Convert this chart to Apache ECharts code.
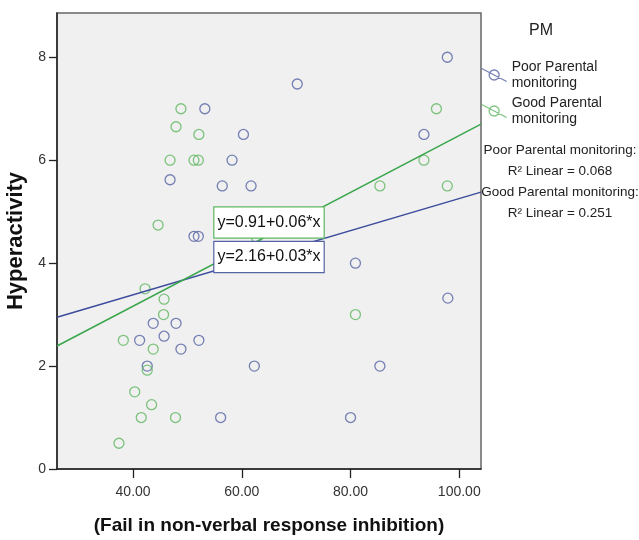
<!DOCTYPE html>
<html>
<head>
<meta charset="utf-8">
<script src="https://cdn.jsdelivr.net/npm/echarts@6.0.0/dist/echarts.min.js"></script>
<style>
  html, body { margin: 0; padding: 0; background: #ffffff; }
  #chart { width: 639px; height: 540px; }
</style>
</head>
<body>
<div id="chart"></div>
<script>
// ---------------- data ----------------
const seriesNames = ['Poor Parental monitoring', 'Good Parental monitoring'];

const poorX = [53.2, 60.3, 58.2, 46.8, 56.4, 61.7, 51.2, 52.0, 43.7, 47.9, 41.2, 45.7, 52.1, 48.8, 42.6, 62.3, 56.1, 97.8, 70.2, 93.5, 80.9, 97.9, 85.4, 80.0];
const poorY = [7.0, 6.5, 6.0, 5.62, 5.5, 5.5, 4.52, 4.52, 2.83, 2.83, 2.5, 2.58, 2.5, 2.33, 2.0, 2.0, 1.0, 8.0, 7.48, 6.5, 4.0, 3.32, 2.0, 1.0];

const goodX = [48.8, 47.9, 52.1, 46.8, 51.2, 52.0, 44.6, 62.7, 42.2, 45.7, 45.6, 38.2, 43.7, 42.6, 40.3, 43.4, 41.5, 47.8, 37.4, 95.8, 93.5, 85.4, 97.8, 80.9];
const goodY = [7.0, 6.65, 6.5, 6.0, 6.0, 6.0, 4.74, 4.5, 3.5, 3.3, 3.0, 2.5, 2.33, 1.92, 1.5, 1.25, 1.0, 1.0, 0.5, 7.0, 6.0, 5.5, 5.5, 3.0];

// fit line end points (as drawn across the plot)
const poorFitX = [26, 104];
const poorFitY = [2.95, 5.38];
const goodFitX = [26, 104];
const goodFitY = [2.39, 6.70];

const fitLabels = ['y=0.91+0.06*x', 'y=2.16+0.03*x']; // good, poor
const r2Labels = ['Poor Parental monitoring:\nR\u00B2 Linear = 0.068', 'Good Parental monitoring:\nR\u00B2 Linear = 0.251'];

const xTicks = [40, 60, 80, 100];
const yTicks = [0, 2, 4, 6, 8];
const xTitle = '(Fail in non-verbal response inhibition)';
const yTitle = 'Hyperactivity';
const legendTitle = 'PM';

// ---------------- layout / style config ----------------
const FONT = '"Liberation Sans", Arial, sans-serif';
const BLUE = '#5563a3';
const BLUE_LINE = '#3c4c9c';
const GREEN = '#5fb760';
const GREEN_LINE = '#3aa64c';
const fitLabelAnchors = [[65, 4.79], [65, 4.12]]; // data-space anchors of the equation boxes

const zip = (xs, ys) => xs.map((x, i) => [x, ys[i]]);

const chart = echarts.init(document.getElementById('chart'), null, { renderer: 'canvas' });

const legendIcon = 'path://M0,0L25,13M17.5,6.5A5,5,0,1,1,7.5,6.5A5,5,0,1,1,17.5,6.5';

const option = {
  animation: false,
  backgroundColor: '#ffffff',
  textStyle: { fontFamily: FONT },
  title: {
    text: legendTitle,
    left: 529,
    top: 23,
    padding: 0,
    textStyle: { fontFamily: FONT, fontSize: 16, fontWeight: 'normal', color: '#222' }
  },
  legend: {
    orient: 'vertical',
    left: 481,
    top: 59,
    padding: 0,
    itemWidth: 25,
    itemHeight: 13,
    itemGap: 4,
    selectedMode: false,
    data: seriesNames.map(n => ({ name: n, icon: legendIcon })),
    formatter: name => name.replace(' monitoring', '\nmonitoring'),
    textStyle: { fontFamily: FONT, fontSize: 14, lineHeight: 16, color: '#222' },
    itemStyle: { borderWidth: 1.3 }
  },
  grid: {
    left: 57, top: 13, right: 158, bottom: 71,
    show: true,
    backgroundColor: '#f0f0f0',
    borderColor: '#666',
    borderWidth: 1.5,
    containLabel: false,
    outerBoundsMode: 'none'
  },
  xAxis: {
    type: 'value',
    min: 26,
    max: 104,
    axisLine: { show: true, onZero: false, lineStyle: { color: '#222', width: 1.5 } },
    axisTick: { show: true, length: 9, customValues: xTicks, lineStyle: { color: '#222', width: 1.3 } },
    axisLabel: { customValues: xTicks, formatter: v => v.toFixed(2), margin: 16, fontSize: 14, color: '#333', fontFamily: FONT },
    splitLine: { show: false },
    name: xTitle,
    nameLocation: 'middle',
    nameGap: 47,
    nameTextStyle: { fontFamily: FONT, fontWeight: 'bold', fontSize: 19, color: '#111' }
  },
  yAxis: {
    type: 'value',
    min: 0,
    max: 8.86,
    axisLine: { show: true, onZero: false, lineStyle: { color: '#222', width: 1.5 } },
    axisTick: { show: true, length: 8, customValues: yTicks, lineStyle: { color: '#222', width: 1.3 } },
    axisLabel: { customValues: yTicks, margin: 11, fontSize: 14, color: '#333', fontFamily: FONT },
    splitLine: { show: false },
    name: yTitle,
    nameLocation: 'middle',
    nameGap: 23,
    nameTextStyle: { fontFamily: FONT, fontWeight: 'bold', fontSize: 22, color: '#111' }
  },
  graphic: [
    {
      type: 'text', x: 560, y: 140, z: 100,
      style: { text: r2Labels[0], align: 'center', verticalAlign: 'top', font: '13.5px ' + FONT, lineHeight: 21, fill: '#222' }
    },
    {
      type: 'text', x: 560, y: 182, z: 100,
      style: { text: r2Labels[1], align: 'center', verticalAlign: 'top', font: '13.5px ' + FONT, lineHeight: 21, fill: '#222' }
    }
  ],
  series: [
    {
      name: seriesNames[0],
      type: 'scatter',
      symbol: 'circle',
      symbolSize: 10,
      data: zip(poorX, poorY),
      itemStyle: { color: 'rgba(0,0,0,0)', borderColor: BLUE, borderWidth: 1.3 },
      z: 3
    },
    {
      name: seriesNames[1],
      type: 'scatter',
      symbol: 'circle',
      symbolSize: 10,
      data: zip(goodX, goodY),
      itemStyle: { color: 'rgba(0,0,0,0)', borderColor: GREEN, borderWidth: 1.3 },
      z: 3
    },
    {
      name: 'Poor fit',
      type: 'line',
      data: zip(poorFitX, poorFitY),
      showSymbol: false,
      symbol: 'none',
      lineStyle: { color: BLUE_LINE, width: 1.5 },
      z: 4
    },
    {
      name: 'Good fit',
      type: 'line',
      data: zip(goodFitX, goodFitY),
      showSymbol: false,
      symbol: 'none',
      lineStyle: { color: GREEN_LINE, width: 1.5 },
      z: 4
    },
    {
      name: 'Fit labels',
      type: 'scatter',
      symbolSize: 1,
      itemStyle: { color: 'rgba(0,0,0,0)', borderWidth: 0 },
      z: 10,
      zlevel: 1,
      data: fitLabelAnchors.map((p, i) => ({
        value: p,
        label: {
          show: true,
          position: 'inside',
          formatter: fitLabels[i],
          fontFamily: FONT,
          fontSize: 16,
          color: '#111',
          opacity: 1,
          backgroundColor: '#ffffff',
          borderColor: i === 0 ? GREEN : BLUE,
          borderWidth: 1.2,
          padding: [7, 3, 7, 3]
        }
      }))
    }
  ]
};

chart.setOption(option);
</script>
</body>
</html>
